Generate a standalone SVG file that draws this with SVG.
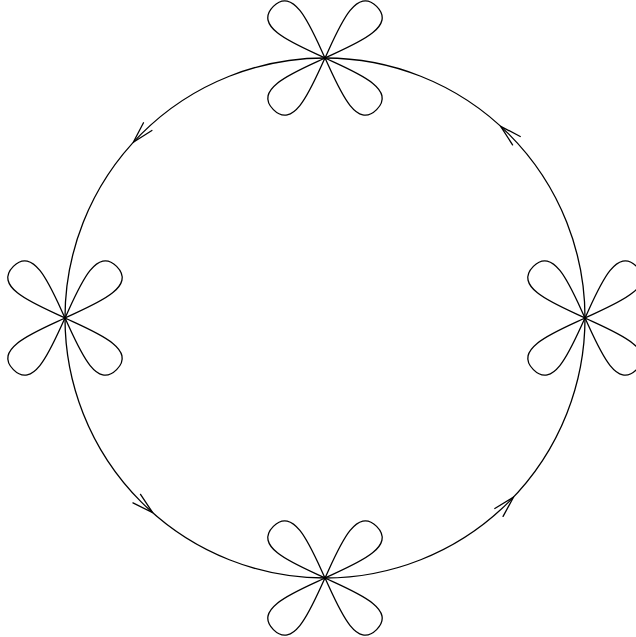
<svg xmlns="http://www.w3.org/2000/svg" xmlns:xlink="http://www.w3.org/1999/xlink" width="636" height="637" viewBox="0 0 636 637">
<style>
.ln{fill:none;stroke:#000;stroke-width:1.3;stroke-linejoin:round;stroke-linecap:round}
</style>
<defs>
<path id="petal" class="ln" d="M0,0 C30,-11 73,-30 73,0 C73,30 30,11 0,0 Z"/>
<g id="clover">
<use xlink:href="#petal" href="#petal" transform="rotate(-45)"/>
<use xlink:href="#petal" href="#petal" transform="rotate(-135)"/>
<use xlink:href="#petal" href="#petal" transform="rotate(45)"/>
<use xlink:href="#petal" href="#petal" transform="rotate(135)"/>
</g>
<path id="arr" class="ln" d="M-21.3,-5.7 L0,0 L-21.3,5.7"/>
</defs>
<rect width="636" height="637" fill="#fff"/>
<g id="connectors">
<circle class="ln" cx="325" cy="318" r="260"/>
<use xlink:href="#arr" href="#arr" transform="translate(500.7,126.3) rotate(-137.5)"/>
<use xlink:href="#arr" href="#arr" transform="translate(133.3,142.3) rotate(132.5)"/>
<use xlink:href="#arr" href="#arr" transform="translate(152.7,512.7) rotate(41.5)"/>
<use xlink:href="#arr" href="#arr" transform="translate(513.6,497) rotate(-46.5)"/>
</g>
<g id="node-top"><use xlink:href="#clover" href="#clover" transform="translate(325,58)"/></g>
<g id="node-left"><use xlink:href="#clover" href="#clover" transform="translate(65,318)"/></g>
<g id="node-right"><use xlink:href="#clover" href="#clover" transform="translate(585,318)"/></g>
<g id="node-bottom"><use xlink:href="#clover" href="#clover" transform="translate(325,578)"/></g>
</svg>
